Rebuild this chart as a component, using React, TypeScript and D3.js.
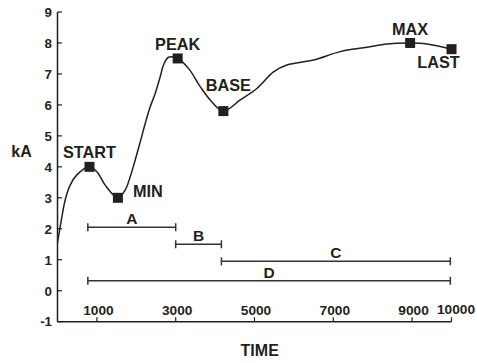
import React from "react";
import * as d3 from "d3";

const curveTimes = [0, 100, 195, 322, 492, 812, 1000, 1210, 1533, 1718, 1845, 1972, 2099, 2226, 2353, 2480, 2607, 2690, 2817, 3050, 3325, 3622, 3876, 4210, 4637, 5060, 5482, 5822, 6497, 7175, 7853, 8360, 8950, 9376, 10000];
const curveValues = [1.56, 2.3, 2.93, 3.41, 3.74, 4.0, 3.84, 3.41, 3.0, 3.25, 3.68, 4.22, 4.8, 5.4, 5.94, 6.37, 6.91, 7.29, 7.54, 7.5, 7.18, 6.59, 6.16, 5.8, 6.16, 6.53, 7.07, 7.29, 7.45, 7.72, 7.86, 7.97, 8.0, 7.97, 7.8];

const markerNames = ["START", "MIN", "PEAK", "BASE", "MAX", "LAST"];
const markerTimes = [812, 1533, 3050, 4210, 8950, 10000];
const markerValues = [4.0, 3.0, 7.5, 5.8, 8.0, 7.8];

const intervalNames = ["A", "B", "C", "D"];
const intervalStarts = [770, 3000, 4160, 770];
const intervalEnds = [3000, 4160, 9970, 9970];
const intervalLevels = [2.05, 1.5, 0.95, 0.32];

const xTicks = [1000, 3000, 5000, 7000, 9000, 10000];
const yTicks = [-1, 0, 1, 2, 3, 4, 5, 6, 7, 8, 9];

const FONT = "'Liberation Sans', Arial, Helvetica, sans-serif";
const INK = "#231f20";

export default function App() {
  const x = d3.scaleLinear().domain([0, 10000]).range([57.5, 451.5]);
  const y = d3.scaleLinear().domain([-1, 9]).range([321.7, 12]);

  const pts: [number, number][] = curveTimes.map((t, i) => [x(t), y(curveValues[i])]);
  const line = d3.line().curve(d3.curveCatmullRom.alpha(0.5))(pts) || "";

  const labelPos: Record<string, [number, number, string]> = {
    START: [0, -9, "middle"],
    MIN: [15, -1, "start"],
    PEAK: [0, -8.3, "middle"],
    BASE: [5, -20, "middle"],
    MAX: [0, -7.7, "middle"],
    LAST: [-13, 18.4, "middle"],
  };

  return (
    <svg width={477} height={363} style={{ position: "absolute", left: 0, top: 0, background: "#fff" }} fontFamily={FONT} fontWeight="bold">
      <line x1={x(0)} x2={x(0)} y1={y(9)} y2={y(-1)} stroke={INK} strokeWidth={1.5} />
      <line x1={x(0)} x2={x(10000)} y1={y(-1)} y2={y(-1)} stroke={INK} strokeWidth={1.5} />
      {yTicks.map((v) => (
        <g key={"y" + v}>
          <line x1={x(0)} x2={x(0) + 4.5} y1={y(v)} y2={y(v)} stroke={INK} strokeWidth={1.2} />
          <text x={x(0) - 5.5} y={y(v)} dy="0.36em" textAnchor="end" fontSize={13.3} fill={INK}>{v}</text>
        </g>
      ))}
      {xTicks.map((t, i) => (
        <g key={"x" + t}>
          <line x1={x(t)} x2={x(t)} y1={y(-1)} y2={y(-1) - 4.5} stroke={INK} strokeWidth={1.2} />
          <text x={x(t) + (i === xTicks.length - 1 ? 4.5 : 1.5)} y={y(-1) - (i === xTicks.length - 1 ? 8.2 : 6.7)} textAnchor="middle" fontSize={13.7} fill={INK}>{t}</text>
        </g>
      ))}
      <text x={21.5} y={y(4.5)} dy="0.36em" textAnchor="middle" fontSize={16} fill={INK}>kA</text>
      <text x={259.7} y={355.5} textAnchor="middle" fontSize={16} fill={INK}>TIME</text>

      {intervalNames.map((n, i) => {
        const x1 = x(intervalStarts[i]);
        const x2 = x(intervalEnds[i]);
        const yy = y(intervalLevels[i]);
        return (
          <g key={n}>
            <line x1={x1} x2={x2} y1={yy} y2={yy} stroke="#333" strokeWidth={1.5} />
            <line x1={x1} x2={x1} y1={yy - 4} y2={yy + 4} stroke="#333" strokeWidth={1.5} />
            <line x1={x2} x2={x2} y1={yy - 4} y2={yy + 4} stroke="#333" strokeWidth={1.5} />
            <text x={(x1 + x2) / 2} y={yy - 3} textAnchor="middle" fontSize={15.5} fill={INK}>{n}</text>
          </g>
        );
      })}

      <path d={line} fill="none" stroke={INK} strokeWidth={1.5} />

      {markerNames.map((n, i) => {
        const mx = x(markerTimes[i]);
        const my = y(markerValues[i]);
        const [dx, dy, anchor] = labelPos[n];
        return (
          <g key={n}>
            <rect x={mx - 5} y={my - 5} width={10} height={10} fill={INK} />
            <text x={mx + dx} y={my + dy} textAnchor={anchor as any} fontSize={16.3} fill={INK}>{n}</text>
          </g>
        );
      })}
    </svg>
  );
}
